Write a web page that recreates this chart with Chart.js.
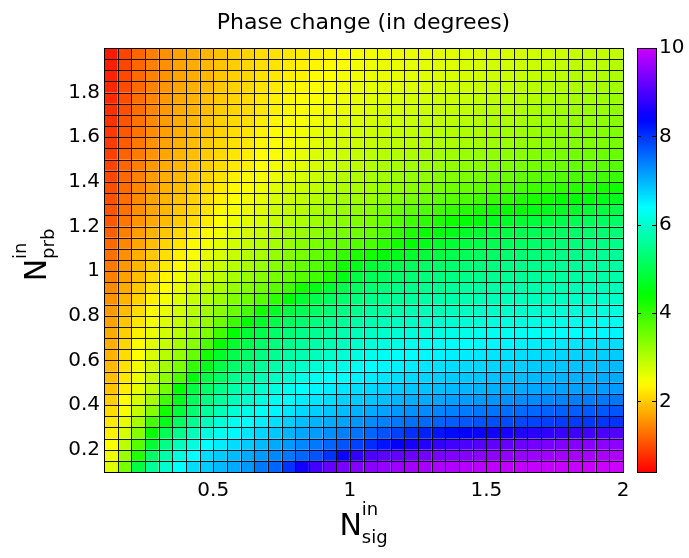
<!DOCTYPE html>
<html>
<head>
<meta charset="utf-8">
<script src="https://cdn.jsdelivr.net/npm/chart.js@4.4.0/dist/chart.umd.min.js"></script>
<style>
  html, body { margin: 0; padding: 0; background: #fff; }
  #wrap { position: relative; width: 689px; height: 558px; }
</style>
</head>
<body>
<div id="wrap"><canvas id="phase-chart" width="689" height="558"></canvas></div>
<script>
// cell edges (pcolor corners)
const nSig = [0.1, 0.15, 0.2, 0.25, 0.3, 0.35, 0.4, 0.45, 0.5, 0.55, 0.6, 0.65, 0.7, 0.75, 0.8, 0.85, 0.9, 0.95, 1,
    1.05, 1.1, 1.15, 1.2, 1.25, 1.3, 1.35, 1.4, 1.45, 1.5, 1.55, 1.6, 1.65, 1.7, 1.75, 1.8, 1.85, 1.9, 1.95, 2];
const nPrb = [0.1, 0.15, 0.2, 0.25, 0.3, 0.35, 0.4, 0.45, 0.5, 0.55, 0.6, 0.65, 0.7, 0.75, 0.8, 0.85, 0.9, 0.95, 1,
    1.05, 1.1, 1.15, 1.2, 1.25, 1.3, 1.35, 1.4, 1.45, 1.5, 1.55, 1.6, 1.65, 1.7, 1.75, 1.8, 1.85, 1.9, 1.95, 2];

// phase change in degrees, rows from N_prb = 2 (top) down to N_prb = 0.1 (bottom)
const phase = [
    [0.6,0.93,1.2,1.4,1.53,1.67,1.73,1.83,1.93,2.0,2.07,2.13,2.17,2.23,2.27,2.3,2.33,2.4,2.47, 2.5,2.52,2.54,2.57,2.59,2.61,2.63,2.66,2.68,2.7,2.72,2.74,2.77,2.79,2.81,2.83,2.86,2.88,2.9],
    [0.63,0.95,1.21,1.41,1.54,1.68,1.74,1.84,1.94,2.01,2.08,2.15,2.19,2.25,2.29,2.33,2.36,2.43,2.5, 2.52,2.55,2.57,2.6,2.62,2.65,2.67,2.7,2.72,2.75,2.77,2.8,2.82,2.85,2.87,2.9,2.92,2.95,2.97],
    [0.67,0.97,1.23,1.43,1.56,1.69,1.76,1.86,1.96,2.03,2.09,2.17,2.22,2.29,2.32,2.37,2.4,2.47,2.51, 2.53,2.56,2.59,2.62,2.65,2.68,2.71,2.73,2.76,2.79,2.82,2.85,2.88,2.91,2.94,2.97,2.99,3.02,3.05],
    [0.7,0.99,1.24,1.44,1.57,1.71,1.77,1.87,1.97,2.04,2.11,2.19,2.25,2.32,2.35,2.41,2.44,2.5,2.55, 2.58,2.61,2.64,2.67,2.7,2.73,2.76,2.79,2.82,2.85,2.88,2.91,2.94,2.97,3.0,3.03,3.06,3.09,3.12],
    [0.74,1.01,1.26,1.46,1.59,1.72,1.79,1.89,1.99,2.06,2.12,2.21,2.28,2.35,2.38,2.44,2.47,2.54,2.6, 2.63,2.66,2.69,2.73,2.76,2.79,2.82,2.85,2.88,2.92,2.95,2.98,3.01,3.04,3.07,3.1,3.13,3.17,3.2],
    [0.77,1.03,1.27,1.47,1.6,1.73,1.8,1.9,2.0,2.07,2.13,2.23,2.3,2.37,2.4,2.47,2.5,2.57,2.63, 2.68,2.71,2.74,2.78,2.81,2.84,2.87,2.9,2.94,2.97,3.0,3.03,3.07,3.1,3.13,3.17,3.2,3.23,3.27],
    [0.8,1.06,1.3,1.5,1.63,1.75,1.83,1.93,2.03,2.1,2.16,2.26,2.34,2.41,2.45,2.52,2.56,2.63,2.69, 2.73,2.76,2.79,2.83,2.86,2.89,2.93,2.96,2.99,3.03,3.06,3.09,3.13,3.16,3.2,3.23,3.26,3.3,3.33],
    [0.83,1.1,1.32,1.52,1.65,1.77,1.85,1.95,2.05,2.13,2.2,2.3,2.38,2.45,2.5,2.57,2.63,2.69,2.75, 2.8,2.83,2.86,2.9,2.93,2.96,3.0,3.03,3.06,3.1,3.13,3.16,3.2,3.23,3.27,3.3,3.33,3.37,3.4],
    [0.87,1.13,1.35,1.55,1.68,1.79,1.88,1.98,2.08,2.17,2.23,2.33,2.42,2.49,2.54,2.63,2.69,2.75,2.81, 2.87,2.9,2.93,2.96,3.0,3.03,3.06,3.09,3.13,3.16,3.19,3.23,3.26,3.3,3.33,3.37,3.4,3.43,3.47],
    [0.9,1.17,1.37,1.57,1.7,1.81,1.9,2.0,2.1,2.2,2.27,2.37,2.46,2.53,2.59,2.68,2.74,2.81,2.87, 2.93,2.97,3.0,3.04,3.08,3.12,3.15,3.19,3.23,3.27,3.3,3.34,3.38,3.42,3.45,3.49,3.53,3.56,3.6],
    [0.93,1.2,1.4,1.6,1.73,1.83,1.93,2.03,2.13,2.23,2.3,2.4,2.5,2.57,2.63,2.73,2.8,2.87,2.93, 3.0,3.04,3.08,3.12,3.16,3.2,3.24,3.28,3.32,3.37,3.41,3.45,3.49,3.53,3.57,3.61,3.65,3.69,3.73],
    [0.96,1.23,1.43,1.63,1.76,1.86,1.97,2.08,2.18,2.29,2.37,2.47,2.57,2.65,2.72,2.82,2.9,2.97,3.02, 3.07,3.12,3.17,3.22,3.27,3.32,3.37,3.42,3.47,3.52,3.57,3.62,3.67,3.72,3.77,3.82,3.86,3.9,3.95],
    [1.0,1.25,1.47,1.65,1.79,1.9,2.01,2.13,2.24,2.35,2.44,2.53,2.65,2.73,2.81,2.9,2.98,3.04,3.09, 3.13,3.2,3.26,3.33,3.39,3.46,3.52,3.59,3.65,3.72,3.78,3.85,3.91,3.98,4.04,4.11,4.17,4.24,4.3],
    [1.03,1.28,1.5,1.68,1.81,1.93,2.05,2.17,2.29,2.41,2.5,2.6,2.72,2.81,2.89,2.97,3.04,3.1,3.15, 3.2,3.29,3.38,3.47,3.56,3.64,3.72,3.8,3.88,3.96,4.04,4.12,4.2,4.28,4.36,4.43,4.5,4.58,4.65],
    [1.07,1.3,1.54,1.7,1.84,1.97,2.09,2.22,2.35,2.47,2.57,2.66,2.8,2.89,2.98,3.06,3.14,3.22,3.28, 3.33,3.45,3.57,3.68,3.79,3.9,4.0,4.1,4.19,4.28,4.37,4.45,4.53,4.6,4.67,4.74,4.81,4.88,4.95],
    [1.1,1.33,1.57,1.73,1.87,2.0,2.13,2.27,2.4,2.53,2.63,2.73,2.87,2.97,3.07,3.16,3.25,3.33,3.41, 3.47,3.62,3.77,3.91,4.04,4.17,4.3,4.42,4.52,4.62,4.7,4.78,4.86,4.93,5.0,5.06,5.11,5.16,5.2],
    [1.16,1.4,1.64,1.81,1.96,2.1,2.24,2.38,2.51,2.64,2.74,2.85,2.99,3.1,3.2,3.29,3.38,3.46,3.54, 3.6,3.8,3.99,4.17,4.34,4.48,4.6,4.7,4.79,4.87,4.94,5.01,5.07,5.12,5.17,5.22,5.26,5.3,5.33],
    [1.22,1.47,1.7,1.89,2.06,2.2,2.35,2.48,2.62,2.75,2.86,2.97,3.11,3.22,3.33,3.44,3.55,3.66,3.76, 3.83,4.05,4.26,4.44,4.58,4.7,4.8,4.89,4.97,5.04,5.1,5.16,5.22,5.27,5.32,5.36,5.4,5.44,5.47],
    [1.28,1.53,1.77,1.97,2.15,2.3,2.45,2.59,2.72,2.85,2.97,3.09,3.23,3.35,3.47,3.62,3.81,4.0,4.17, 4.27,4.45,4.6,4.73,4.84,4.93,5.01,5.08,5.15,5.21,5.27,5.32,5.37,5.41,5.45,5.49,5.53,5.57,5.6],
    [1.34,1.6,1.83,2.05,2.24,2.4,2.56,2.69,2.83,2.96,3.09,3.21,3.35,3.47,3.6,3.76,3.97,4.3,4.6, 4.8,4.92,5.02,5.1,5.17,5.23,5.28,5.33,5.37,5.41,5.45,5.49,5.52,5.55,5.58,5.61,5.63,5.65,5.67],
    [1.4,1.67,1.9,2.13,2.33,2.5,2.67,2.8,2.93,3.07,3.2,3.33,3.47,3.6,3.73,3.9,4.13,4.53,4.93, 5.1,5.18,5.25,5.31,5.36,5.4,5.44,5.48,5.51,5.54,5.57,5.6,5.62,5.64,5.66,5.68,5.7,5.72,5.73],
    [1.47,1.74,1.98,2.21,2.41,2.59,2.76,2.9,3.07,3.22,3.37,3.52,3.7,3.9,4.25,4.55,4.8,5.0,5.15, 5.3,5.37,5.43,5.48,5.53,5.57,5.61,5.64,5.67,5.7,5.72,5.74,5.76,5.78,5.8,5.82,5.84,5.86,5.87],
    [1.53,1.81,2.06,2.3,2.5,2.68,2.86,3.02,3.2,3.38,3.55,3.75,4.05,4.45,4.8,5.0,5.15,5.27,5.38, 5.5,5.56,5.61,5.65,5.69,5.72,5.75,5.78,5.81,5.83,5.85,5.87,5.89,5.91,5.93,5.95,5.97,5.99,6.0],
    [1.6,1.88,2.14,2.38,2.58,2.77,2.96,3.14,3.35,3.58,3.85,4.25,4.65,4.9,5.05,5.2,5.33,5.43,5.52, 5.65,5.71,5.76,5.8,5.84,5.87,5.9,5.93,5.95,5.97,5.99,6.01,6.03,6.05,6.07,6.09,6.1,6.12,6.13],
    [1.67,1.96,2.22,2.47,2.67,2.86,3.05,3.25,3.55,3.95,4.35,4.7,4.95,5.15,5.28,5.4,5.5,5.6,5.7, 5.8,5.86,5.91,5.95,5.99,6.02,6.05,6.08,6.1,6.13,6.15,6.17,6.19,6.21,6.23,6.25,6.27,6.29,6.3],
    [1.73,2.03,2.3,2.55,2.75,2.95,3.15,3.4,3.9,4.4,4.8,5.0,5.2,5.35,5.45,5.55,5.65,5.75,5.85, 5.95,6.01,6.06,6.1,6.14,6.17,6.2,6.23,6.26,6.28,6.3,6.32,6.34,6.36,6.38,6.4,6.42,6.45,6.47],
    [1.77,2.08,2.37,2.63,2.87,3.1,3.35,3.8,4.35,4.75,5.0,5.2,5.38,5.52,5.62,5.72,5.8,5.9,6.0, 6.1,6.16,6.21,6.26,6.3,6.34,6.37,6.4,6.43,6.46,6.48,6.5,6.53,6.55,6.57,6.6,6.62,6.65,6.67],
    [1.81,2.13,2.43,2.7,2.98,3.25,3.6,4.25,4.7,5.0,5.22,5.4,5.55,5.7,5.8,5.9,5.98,6.07,6.15, 6.25,6.31,6.36,6.41,6.45,6.49,6.52,6.55,6.58,6.6,6.63,6.65,6.67,6.69,6.71,6.74,6.76,6.78,6.8],
    [1.85,2.18,2.5,2.78,3.12,3.45,4.0,4.6,4.95,5.22,5.42,5.58,5.72,5.87,5.98,6.06,6.15,6.23,6.3, 6.4,6.46,6.51,6.55,6.59,6.62,6.65,6.68,6.71,6.73,6.76,6.78,6.8,6.82,6.84,6.86,6.88,6.91,6.93],
    [1.89,2.22,2.55,2.85,3.3,3.8,4.5,4.95,5.2,5.5,5.65,5.8,5.93,6.07,6.2,6.27,6.35,6.42,6.5, 6.55,6.6,6.65,6.69,6.73,6.77,6.8,6.83,6.85,6.88,6.9,6.92,6.94,6.96,6.98,7.0,7.02,7.05,7.07],
    [1.93,2.27,2.6,2.93,3.5,4.4,4.9,5.25,5.47,5.73,5.87,6.0,6.13,6.27,6.4,6.47,6.53,6.6,6.65, 6.7,6.75,6.8,6.84,6.88,6.91,6.94,6.97,6.99,7.02,7.04,7.06,7.08,7.1,7.12,7.14,7.16,7.18,7.2],
    [2.03,2.37,2.73,3.12,3.9,4.6,5.1,5.45,5.65,5.88,6.02,6.15,6.28,6.41,6.53,6.6,6.67,6.75,6.8, 6.85,6.91,6.97,7.02,7.06,7.1,7.14,7.17,7.2,7.23,7.26,7.29,7.32,7.35,7.37,7.4,7.42,7.45,7.47],
    [2.13,2.48,2.88,3.35,4.25,4.85,5.3,5.65,5.85,6.05,6.2,6.33,6.46,6.58,6.7,6.77,6.84,6.92,7.0, 7.05,7.12,7.19,7.25,7.3,7.35,7.39,7.43,7.47,7.5,7.53,7.56,7.59,7.62,7.64,7.67,7.69,7.71,7.73],
    [2.23,2.6,3.08,3.85,4.6,5.15,5.55,5.9,6.1,6.25,6.4,6.52,6.65,6.78,6.9,6.98,7.05,7.13,7.22, 7.3,7.38,7.46,7.52,7.58,7.63,7.67,7.71,7.75,7.78,7.81,7.84,7.87,7.9,7.92,7.94,7.96,7.98,8.0],
    [2.3,2.73,3.35,4.35,5.05,5.5,5.85,6.15,6.3,6.45,6.6,6.72,6.85,6.98,7.1,7.18,7.28,7.4,7.5, 7.6,7.75,7.9,8.03,8.15,8.25,8.33,8.4,8.47,8.53,8.6,8.66,8.72,8.78,8.83,8.88,8.93,8.98,9.03],
    [2.4,2.93,3.73,4.8,5.47,5.87,6.13,6.4,6.53,6.67,6.8,6.93,7.07,7.2,7.33,7.45,7.6,7.75,7.9, 8.05,8.25,8.42,8.57,8.7,8.82,8.92,9.0,9.08,9.15,9.21,9.27,9.32,9.37,9.41,9.45,9.48,9.51,9.53],
    [2.53,3.2,4.13,5.2,5.73,6.13,6.4,6.67,6.8,6.93,7.07,7.2,7.33,7.47,7.6,7.73,8.0,8.5,8.8, 9.0,9.1,9.18,9.25,9.31,9.37,9.42,9.46,9.5,9.54,9.57,9.6,9.63,9.66,9.69,9.71,9.73,9.75,9.77],
    [2.67,3.47,4.93,5.6,6.0,6.4,6.67,6.8,6.93,7.07,7.2,7.47,7.6,8.0,8.53,8.93,9.2,9.33,9.45, 9.5,9.57,9.63,9.68,9.72,9.76,9.8,9.83,9.86,9.88,9.9,9.92,9.94,9.95,9.96,9.97,9.98,9.99,10.0]
];

const xTicks = [0.5, 1, 1.5, 2];
const yTicks = [0.2, 0.4, 0.6, 0.8, 1, 1.2, 1.4, 1.6, 1.8];
const cbTicks = [2, 4, 6, 8, 10];
const cMin = 0.4;
const cMax = 10;

const FONT = "'DejaVu Sans', 'Liberation Sans', Arial, sans-serif";

// hsv-like colormap, red at cMin up to purple-magenta at cMax
function phaseColor(v) {
    const t = Math.min(1, Math.max(0, (v - cMin) / (cMax - cMin)));
    return `hsl(${(t * 288).toFixed(1)}, 100%, 50%)`;
}

const cells = [];
phase.forEach((row, r) => {
    const j = phase.length - 1 - r;
    row.forEach((v, i) => {
        cells.push({
            x: (nSig[i] + nSig[i + 1]) / 2,
            y: (nPrb[j] + nPrb[j + 1]) / 2,
            x0: nSig[i], x1: nSig[i + 1],
            y0: nPrb[j], y1: nPrb[j + 1],
            v
        });
    });
});

const heatPlugin = {
    id: 'heatCells',
    beforeDatasetsDraw(chart) {
        const { ctx } = chart;
        const xs = chart.scales.x;
        const ys = chart.scales.y;
        ctx.save();
        cells.forEach((c) => {
            const l = xs.getPixelForValue(c.x0);
            const r = xs.getPixelForValue(c.x1);
            const t = ys.getPixelForValue(c.y1);
            const b = ys.getPixelForValue(c.y0);
            ctx.fillStyle = phaseColor(c.v);
            ctx.fillRect(l, t, r - l, b - t);
        });
        ctx.strokeStyle = 'rgba(0,0,0,0.9)';
        ctx.lineWidth = 1;
        ctx.beginPath();
        nSig.forEach((e) => {
            const px = Math.round(xs.getPixelForValue(e)) + 0.5;
            ctx.moveTo(px, ys.getPixelForValue(nPrb[0]));
            ctx.lineTo(px, ys.getPixelForValue(nPrb[nPrb.length - 1]));
        });
        nPrb.forEach((e) => {
            const py = Math.round(ys.getPixelForValue(e)) + 0.5;
            ctx.moveTo(xs.getPixelForValue(nSig[0]), py);
            ctx.lineTo(xs.getPixelForValue(nSig[nSig.length - 1]), py);
        });
        ctx.stroke();
        ctx.restore();
    },
    afterDraw(chart) {
        const { ctx, chartArea } = chart;
        const cb = chart.scales.cb;
        ctx.save();
        // axes box
        ctx.strokeStyle = '#000';
        ctx.lineWidth = 1;
        ctx.strokeRect(Math.round(chartArea.left) + 0.5, Math.round(chartArea.top) + 0.5,
            Math.round(chartArea.right - chartArea.left), Math.round(chartArea.bottom - chartArea.top));

        // colorbar
        const cbLeft = Math.round(chartArea.right) + 14;
        const cbWidth = 19;
        const top = cb.getPixelForValue(cMax);
        const bottom = cb.getPixelForValue(cMin);
        const grad = ctx.createLinearGradient(0, bottom, 0, top);
        for (let k = 0; k <= 64; k++) {
            grad.addColorStop(k / 64, phaseColor(cMin + (cMax - cMin) * k / 64));
        }
        ctx.fillStyle = grad;
        ctx.fillRect(cbLeft, top, cbWidth, bottom - top);
        ctx.strokeRect(cbLeft + 0.5, Math.round(top) + 0.5, cbWidth, Math.round(bottom - top));
        ctx.beginPath();
        cbTicks.forEach((v) => {
            const py = Math.round(cb.getPixelForValue(v)) + 0.5;
            ctx.moveTo(cbLeft, py);
            ctx.lineTo(cbLeft + 4, py);
            ctx.moveTo(cbLeft + cbWidth - 4, py);
            ctx.lineTo(cbLeft + cbWidth, py);
        });
        ctx.stroke();

        // axis labels with super/subscripts
        ctx.fillStyle = '#000';
        ctx.textBaseline = 'alphabetic';
        ctx.textAlign = 'left';
        const cx = (chartArea.left + chartArea.right) / 2;
        ctx.font = `30px ${FONT}`;
        const nW = ctx.measureText('N').width;
        ctx.font = `18px ${FONT}`;
        const subW = ctx.measureText('sig').width;
        const xStart = cx - (nW + subW) / 2;
        ctx.font = `30px ${FONT}`;
        ctx.fillText('N', xStart, chartArea.bottom + 63);
        ctx.font = `18px ${FONT}`;
        ctx.fillText('in', xStart + nW, chartArea.bottom + 43);
        ctx.fillText('sig', xStart + nW, chartArea.bottom + 71);

        const cy = (chartArea.top + chartArea.bottom) / 2 - 5;
        ctx.translate(chartArea.left - 58, cy);
        ctx.rotate(-Math.PI / 2);
        ctx.font = `18px ${FONT}`;
        const subW2 = ctx.measureText('prb').width;
        const yStart = -(nW + subW2) / 2;
        ctx.font = `30px ${FONT}`;
        ctx.fillText('N', yStart, 0);
        ctx.font = `18px ${FONT}`;
        ctx.fillText('in', yStart + nW, -20);
        ctx.fillText('prb', yStart + nW, 8);
        ctx.restore();
    }
};

const tickFont = { family: FONT, size: 20 };

new Chart(document.getElementById('phase-chart'), {
    type: 'scatter',
    data: {
        datasets: [{
            label: 'Phase change',
            data: cells.map((c) => ({ x: c.x, y: c.y })),
            pointRadius: 0,
            pointHoverRadius: 0
        }]
    },
    options: {
        responsive: false,
        animation: false,
        devicePixelRatio: 1,
        layout: { padding: 0 },
        plugins: {
            legend: { display: false },
            tooltip: { enabled: false },
            title: {
                display: true,
                text: 'Phase change (in degrees)',
                color: '#000',
                fullSize: false,
                font: { family: FONT, size: 22, weight: 'normal', lineHeight: 1.2 },
                padding: { top: 7, bottom: 11.3 }
            }
        },
        scales: {
            x: {
                type: 'linear',
                min: nSig[0],
                max: nSig[nSig.length - 1],
                grid: { display: false, drawTicks: false },
                border: { display: false },
                afterBuildTicks: (s) => { s.ticks = xTicks.map((v) => ({ value: v })); },
                afterFit: (s) => { s.height = 86; },
                ticks: {
                    color: '#000', font: tickFont, padding: 7, maxRotation: 0, autoSkip: false,
                    callback: (v) => String(v)
                }
            },
            y: {
                type: 'linear',
                min: nPrb[0],
                max: nPrb[nPrb.length - 1],
                grid: { display: false, drawTicks: false },
                border: { display: false },
                afterBuildTicks: (s) => { s.ticks = yTicks.map((v) => ({ value: v })); },
                afterFit: (s) => { s.width = 104; },
                ticks: {
                    color: '#000', font: tickFont, padding: 4, autoSkip: false,
                    callback: (v) => String(v)
                }
            },
            cb: {
                type: 'linear',
                position: 'right',
                min: cMin,
                max: cMax,
                grid: { display: false, drawTicks: false },
                border: { display: false },
                afterBuildTicks: (s) => { s.ticks = cbTicks.map((v) => ({ value: v })); },
                afterFit: (s) => { s.width = 66; },
                ticks: {
                    color: '#000', font: tickFont, padding: 36, autoSkip: false,
                    callback: (v) => String(v)
                }
            }
        }
    },
    plugins: [heatPlugin]
});
</script>
</body>
</html>
